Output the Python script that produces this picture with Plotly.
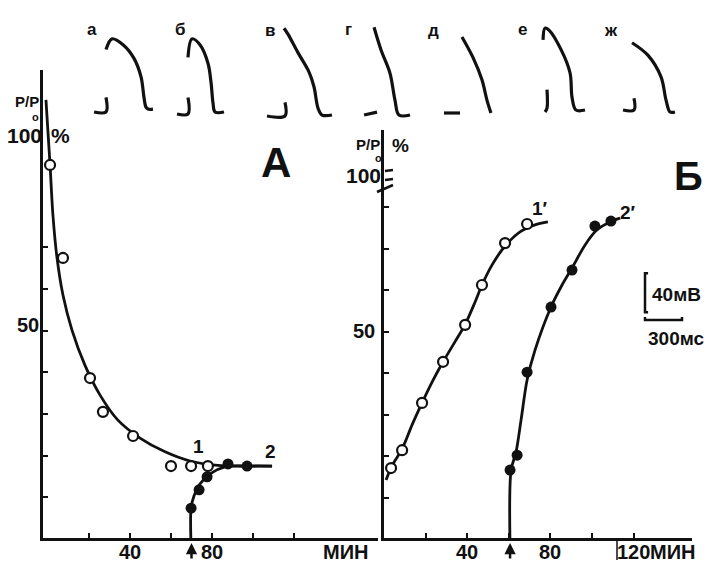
import plotly.graph_objects as go

W, H = 707, 562

# ---------------- Panel А: P/P0 (%) versus time (min) ----------------
a_open_t = [1, 7.3, 20.5, 26.8, 41.5, 60, 69.8, 78]
a_open_p = [89.7, 67.4, 38.6, 30.5, 24.7, 17.5, 17.5, 17.5]
a_fill_t = [69.8, 73.7, 77.6, 87.8, 97.1]
a_fill_p = [7.4, 11.8, 14.9, 18.0, 17.5]

a_curve1_t = [-1, 1, 2.4, 4.4, 7.3, 11.7, 18, 25.4, 34.1, 44.9, 57.1, 69.3, 81.5, 109.3]
a_curve1_p = [105.3, 89.7, 77.7, 67.4, 58.5, 50.1, 41.7, 34.5, 28.5, 24.2, 20.9, 18.7, 17.7, 17.5]
a_curve2_t = [69.8, 69.8, 71.2, 74.1, 79, 86.3, 98.5, 109.3]
a_curve2_p = [-2, 7.4, 10.3, 13.2, 15.6, 17.3, 17.5, 17.5]

# ---------------- Panel Б ----------------
b_open_t = [3.4, 8.7, 18.3, 28.4, 39, 47.1, 58.2, 68.8]
b_open_p = [17.1, 21.4, 32.8, 42.7, 51.6, 61.2, 71.3, 75.9]
b_fill_t = [60.6, 64, 68.8, 80.3, 90.4, 101.4, 109.1]
b_fill_p = [16.6, 20.2, 40.2, 55.9, 64.8, 75.4, 76.6]

b_curve1_t = [1, 3.8, 8.7, 13.5, 18.3, 23.1, 28.4, 34.1, 38.9, 43.8, 47.1, 51.9, 58.2, 65.4, 72.6, 78.8]
b_curve1_p = [14.2, 17.6, 21.7, 27.5, 32.8, 37.8, 42.7, 47.5, 51.6, 57.1, 61.2, 66, 70.6, 74, 75.7, 76.4]
b_curve2_t = [60.6, 61.1, 63.5, 65.9, 68.8, 72.6, 80.3, 85.6, 90.4, 96.6, 102.4, 108.7, 113.5]
b_curve2_p = [-2, 16.6, 21, 28.7, 38.3, 45.5, 55.9, 61.2, 65.3, 70.8, 74.5, 76.4, 77.3]

x_ticks = [20, 40, 60, 80, 100, 120]
a_x_labels = {40: "40", 80: "80"}
b_x_labels = {40: "40", 80: "80", 120: "120"}
a_y_ticks = [10, 20, 30, 40, 50, 60, 70]
b_y_ticks = [10, 20, 30, 40, 50, 60, 70, 80]
y_label_value = 50
onset_a, onset_b = 70, 60.6

# ---------------- Action potentials а–ж (time, ms; potential, mV) ----------------
ap_letters = ["а", "б", "в", "г", "д", "е", "ж"]
stim_t = [[-97, 0, 0], [-89, 0, 0], [-146, 0, 0], [-105, 0], [-130, 0], [-16, 0, 0], [-89, 0, 0]]
stim_v = [[0, 0, 15], [0, 0, 17], [0, 0, 14], [0, 3], [0, 0], [0, 4, 23], [0, 0, 12]]
ap_t = [
    [0, 49, 138, 227, 284, 308, 324, 341, 381],
    [0, 32, 97, 162, 187, 203, 219, 292],
    [-8, 24, 105, 195, 235, 268, 300, 381],
    [-24, 32, 105, 146, 178, 268],
    [16, 105, 178, 219, 251],
    [-32, -16, 16, 114, 187, 203, 235, 308],
    [-16, 114, 219, 260, 292, 332],
]
ap_v = [
    [64, 75, 69, 55, 36, 15, 5, 3, 3],
    [58, 77, 71, 52, 32, 11, 2, 2],
    [90, 84, 65, 45, 30, 8, 1, 1],
    [90, 67, 43, 15, 0, 0],
    [78, 57, 34, 13, 0],
    [74, 86, 84, 64, 40, 15, 2, 2],
    [69, 56, 34, 10, -2, -2],
]
scale_mv, scale_ms = 40, 300

# ---------------- layout geometry (pixels) ----------------
MS_PER_PX = 300 / 37.0
MV_PER_PX = 40 / 39.0
trace_corner = [(106, 112), (188, 114), (285, 116), (377, 115), (460, 113), (547, 112), (634, 110)]
letter_pos = [(92, 29), (180, 29), (270, 31), (348, 29), (433, 31), (522, 29), (611, 31)]

FONT = "Liberation Sans, Arial"
INK = "#111111"

A_PX = dict(left=43, right=378, top=70, bottom=538)
B_PX = dict(left=384, right=692, top=130, bottom=538)
a_x0, a_xs = 48, 2.05      # px at 0 min, px per min
b_x0, b_xs = 384, 2.08
y0_px, a_ys, b_ys = 539, 4.17, 4.15


def paper(px, py):
    return px / W, 1 - py / H


fig = go.Figure()

line_style = dict(color=INK, width=2.8, shape="spline", smoothing=0.9)
open_marker = dict(symbol="circle", size=10, color="white", line=dict(width=2.2, color=INK))
fill_marker = dict(symbol="circle", size=11, color=INK)

# panel А
fig.add_trace(go.Scatter(x=a_curve1_t, y=a_curve1_p, mode="lines", line=line_style, xaxis="x", yaxis="y"))
fig.add_trace(go.Scatter(x=a_curve2_t, y=a_curve2_p, mode="lines", line=line_style, xaxis="x", yaxis="y"))
fig.add_trace(go.Scatter(x=a_open_t, y=a_open_p, mode="markers", marker=open_marker, xaxis="x", yaxis="y"))
fig.add_trace(go.Scatter(x=a_fill_t, y=a_fill_p, mode="markers", marker=fill_marker, xaxis="x", yaxis="y"))

# panel Б
fig.add_trace(go.Scatter(x=b_curve1_t, y=b_curve1_p, mode="lines", line=line_style, xaxis="x2", yaxis="y2"))
fig.add_trace(go.Scatter(x=b_curve2_t, y=b_curve2_p, mode="lines", line=line_style, xaxis="x2", yaxis="y2"))
fig.add_trace(go.Scatter(x=b_open_t, y=b_open_p, mode="markers", marker=open_marker, xaxis="x2", yaxis="y2"))
fig.add_trace(go.Scatter(x=b_fill_t, y=b_fill_p, mode="markers", marker=fill_marker, xaxis="x2", yaxis="y2"))

# action potentials on an overlay axis in ms / mV
for i in range(len(ap_letters)):
    cx, cy = trace_corner[i]
    t0 = cx * MS_PER_PX
    v0 = (H - cy) * MV_PER_PX
    fig.add_trace(go.Scatter(x=[t0 + t for t in stim_t[i]], y=[v0 + v for v in stim_v[i]],
                             mode="lines", line=dict(color=INK, width=3.2, shape="spline"),
                             xaxis="x3", yaxis="y3"))
    fig.add_trace(go.Scatter(x=[t0 + t for t in ap_t[i]], y=[v0 + v for v in ap_v[i]],
                             mode="lines", line=dict(color=INK, width=3.2, shape="spline", smoothing=1.0),
                             xaxis="x3", yaxis="y3"))

# calibration bar 40 mV / 300 ms
bx, by = 645 * MS_PER_PX, (H - 320) * MV_PER_PX
fig.add_trace(go.Scatter(x=[bx + 25, bx, bx, bx + 25], y=[by + 8 + scale_mv, by + 8 + scale_mv, by + 8, by + 8],
                         mode="lines", line=dict(color=INK, width=2.5), xaxis="x3", yaxis="y3"))
fig.add_trace(go.Scatter(x=[bx, bx, bx + scale_ms, bx + scale_ms], y=[by + 3, by, by, by + 3],
                         mode="lines", line=dict(color=INK, width=2.5), xaxis="x3", yaxis="y3"))

# ---------------- axes ----------------
axis_common = dict(showline=True, linewidth=3, linecolor=INK, ticks="inside", ticklen=5,
                   tickwidth=2, tickcolor=INK, showgrid=False, zeroline=False, showticklabels=False)

fig.update_layout(
    xaxis=dict(domain=[A_PX["left"] / W, A_PX["right"] / W],
               range=[(A_PX["left"] - a_x0) / a_xs, (A_PX["right"] - a_x0) / a_xs],
               tickvals=x_ticks, anchor="y", **axis_common),
    yaxis=dict(domain=[1 - A_PX["bottom"] / H, 1 - A_PX["top"] / H],
               range=[(y0_px - A_PX["bottom"]) / a_ys, (y0_px - A_PX["top"]) / a_ys],
               tickvals=a_y_ticks, anchor="x", **axis_common),
    xaxis2=dict(domain=[B_PX["left"] / W, B_PX["right"] / W],
                range=[(B_PX["left"] - b_x0) / b_xs, (B_PX["right"] - b_x0) / b_xs],
                tickvals=x_ticks, anchor="y2", **axis_common),
    yaxis2=dict(domain=[1 - B_PX["bottom"] / H, 1 - B_PX["top"] / H],
                range=[(y0_px - B_PX["bottom"]) / b_ys, (y0_px - B_PX["top"]) / b_ys],
                tickvals=b_y_ticks, anchor="x2", **axis_common),
    xaxis3=dict(domain=[0, 1], range=[0, W * MS_PER_PX], visible=False, anchor="y3", fixedrange=True),
    yaxis3=dict(domain=[0, 1], range=[0, H * MV_PER_PX], visible=False, anchor="x3", fixedrange=True),
)

# ---------------- texts ----------------
def label(text, px, py, size, xanchor="center"):
    x, y = paper(px, py)
    fig.add_annotation(x=x, y=y, xref="paper", yref="paper", text=text, showarrow=False,
                       xanchor=xanchor, yanchor="middle",
                       font=dict(family=FONT, size=size, color=INK, weight="bold"))


def x_tick_label(text, xref, xv, py, size=20):
    fig.add_annotation(x=xv, y=paper(0, py)[1], xref=xref, yref="paper", text=text,
                       showarrow=False, xanchor="center", yanchor="middle",
                       font=dict(family=FONT, size=size, color=INK, weight="bold"))


def y_tick_label(text, yref, yv, px, dy, size=20):
    fig.add_annotation(x=paper(px, 0)[0], y=yv, xref="paper", yref=yref, text=text,
                       showarrow=False, xanchor="center", yanchor="middle", yshift=dy,
                       font=dict(family=FONT, size=size, color=INK, weight="bold"))


for v, t in a_x_labels.items():
    x_tick_label(t, "x", v, 552)
for v, t in b_x_labels.items():
    x_tick_label(t, "x2", v, 552)
y_tick_label(str(y_label_value), "y", y_label_value, 28, 6)
y_tick_label(str(y_label_value), "y2", y_label_value, 364, 1)

for ch, (lx, ly) in zip(ap_letters, letter_pos):
    label(ch, lx, ly, 17)

label("P/P", 27, 102, 15)
label("o", 35, 117, 11)
label("100", 24, 135, 21)
label("%", 60, 135, 21)
label("МИН", 345, 552, 20)
label("1", 198, 446, 19)
label("2", 270, 451, 19)
label("А", 276, 162, 42)

label("P/P", 368, 144, 15)
label("o", 378, 158, 11)
label("%", 400, 146, 19)
label("100", 363, 175, 21)
label("МИН", 672, 552, 20)
label("1′", 540, 209, 19)
label("2′", 628, 212, 19)
label("Б", 688, 176, 40)

label("40мВ", 676, 294, 19)
label("300мс", 676, 338, 19)

# onset arrows below the time axes
for xr, tx in [("x", onset_a), ("x2", onset_b)]:
    fig.add_annotation(x=tx, y=paper(0, 543)[1], xref=xr, yref="paper", ax=0, ay=17, showarrow=True,
                       arrowhead=2, arrowsize=0.9, arrowwidth=2.5, arrowcolor=INK, text="")

# axis break marks on the Б ordinate
for (x0p, y0p, x1p, y1p) in [(385, 171, 393, 170), (385, 180, 393, 179), (377, 192, 393, 185)]:
    xa, ya = paper(x0p, y0p)
    xb, yb = paper(x1p, y1p)
    fig.add_shape(type="line", xref="paper", yref="paper", x0=xa, y0=ya, x1=xb, y1=yb,
                  line=dict(color=INK, width=2.5))
xa, ya = paper(617, 539)
xb, yb = paper(617, 560)
fig.add_shape(type="line", xref="paper", yref="paper", x0=xa, y0=ya, x1=xb, y1=yb,
              line=dict(color=INK, width=1.5))

fig.update_layout(width=W, height=H, margin=dict(l=0, r=0, t=0, b=0),
                  paper_bgcolor="white", plot_bgcolor="rgba(0,0,0,0)", showlegend=False)

fig.write_html("out.html")
